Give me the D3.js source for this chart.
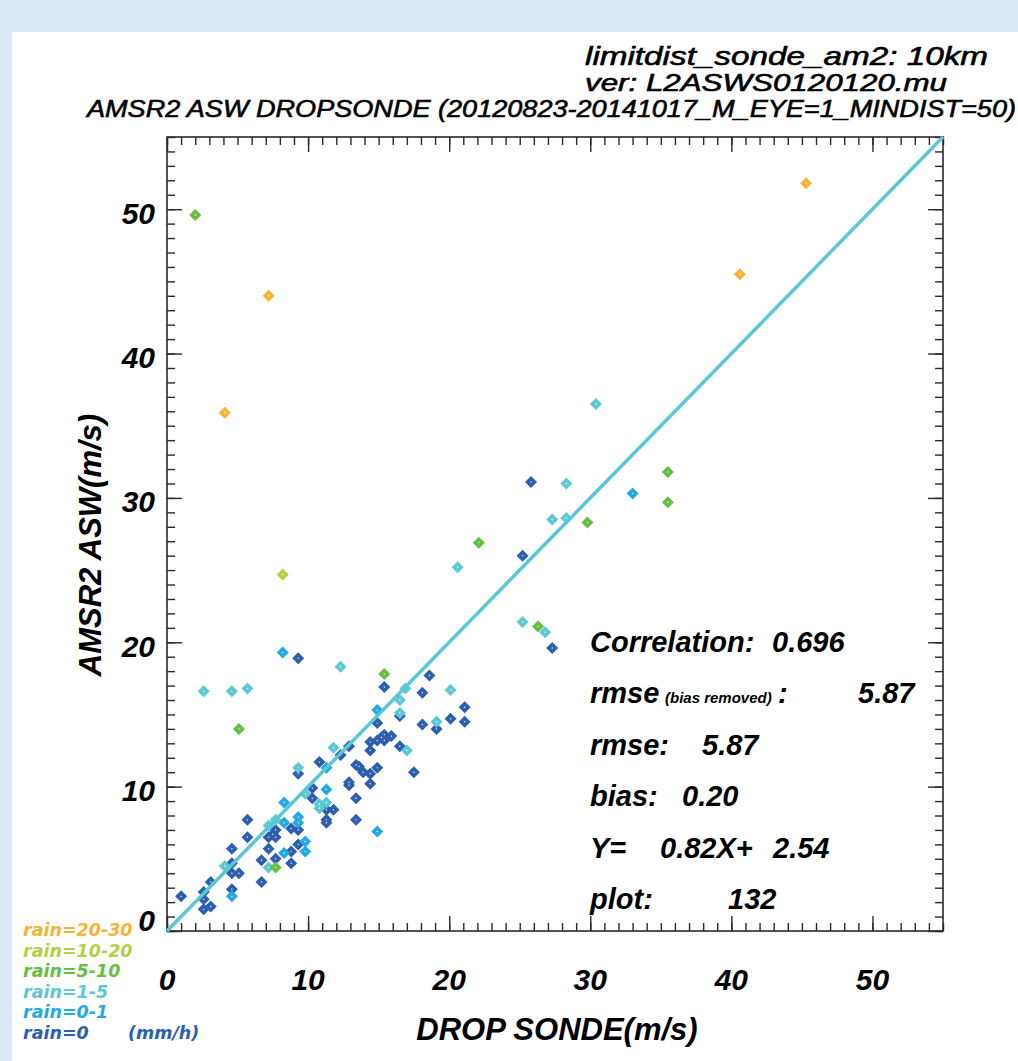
<!DOCTYPE html>
<html>
<head>
<meta charset="utf-8">
<style>
  body { margin: 0; background: #dbe9f6; }
  svg { display: block; }
</style>
</head>
<body>
<div id="container"></div>
<script src="https://cdn.jsdelivr.net/npm/d3@7"></script>
<script>

// ---- data: [drop sonde, AMSR2 ASW] in m/s ----
var rain0 = [
  [25.8, 31.1], [25.2, 26.0], [27.3, 19.6], [9.3, 18.9], [15.4, 16.9], [18.6, 17.7],
  [18.1, 16.5], [21.1, 15.5], [16.5, 14.9], [14.9, 14.4], [19.1, 14.0], [20.1, 14.7],
  [21.1, 14.5], [18.1, 14.3], [15.4, 13.6], [15.9, 13.5], [15.4, 13.2], [14.9, 13.2],
  [15.2, 13.4], [14.4, 13.1], [14.4, 12.5], [16.5, 12.8], [12.9, 12.8], [12.3, 12.2],
  [10.8, 11.7], [9.3, 10.9], [13.4, 11.5], [13.6, 11.4], [14.9, 11.3], [13.9, 11.0],
  [14.4, 10.9], [17.5, 11.0], [14.4, 10.2], [12.9, 10.3], [12.9, 10.1], [10.3, 9.9],
  [10.3, 9.2], [13.4, 9.2], [11.3, 8.4], [11.8, 8.4], [5.7, 7.7], [13.4, 7.7],
  [11.3, 7.7], [11.3, 7.5], [7.7, 7.0], [7.7, 6.5], [7.2, 6.5], [7.5, 6.7],
  [8.8, 7.1], [9.3, 7.0], [9.3, 6.0], [8.8, 5.5], [8.8, 4.7], [7.7, 5.0],
  [7.2, 5.7], [6.7, 4.9], [6.7, 3.4], [5.7, 6.5], [4.6, 5.7], [4.6, 4.7],
  [4.6, 4.0], [5.1, 4.0], [4.6, 2.9], [3.1, 3.4], [2.6, 2.7], [2.6, 2.2],
  [3.1, 1.7], [2.6, 1.5], [1.0, 2.4]
];
var rain0to1 = [
  [33.0, 30.3], [8.2, 19.3], [14.9, 15.3], [11.3, 11.3], [11.3, 9.8], [8.3, 8.9],
  [14.9, 6.9], [8.3, 7.5], [9.3, 7.9], [9.3, 7.5], [9.8, 6.2], [9.8, 5.5],
  [8.3, 5.4], [4.6, 2.4]
];
var rain1to5 = [
  [30.4, 36.5], [28.3, 31.0], [27.3, 28.5], [28.3, 28.6], [20.6, 25.2], [25.2, 21.4],
  [26.8, 20.7], [12.3, 18.3], [2.6, 16.6], [4.6, 16.6], [5.7, 16.8], [16.9, 16.8],
  [16.5, 16.0], [20.1, 16.7], [16.5, 15.1], [19.1, 14.5], [17.0, 12.5], [11.8, 12.7],
  [9.3, 11.3], [9.8, 9.5], [10.8, 8.8], [11.3, 8.9], [10.8, 8.5], [7.2, 7.3],
  [7.7, 7.7], [7.2, 4.4], [4.1, 4.5]
];
var rain5to10 = [
  [2.0, 49.6], [35.5, 31.8], [35.5, 29.7], [29.8, 28.3], [22.1, 26.9], [26.3, 21.1],
  [15.4, 17.8], [5.1, 14.0], [7.7, 4.4]
];
var rain10to20 = [[8.2, 24.7]];
var rain20to30 = [[45.3, 51.8], [40.6, 45.5], [7.2, 44.0], [4.1, 35.9]];

// legend, top to bottom
var rainLabels = ["rain=20-30", "rain=10-20", "rain=5-10", "rain=1-5", "rain=0-1", "rain=0"];
var rainColors = ["#f6b437", "#b3d145", "#68bd45", "#5ec8d5", "#26a9e1", "#2e5fae"];
var rainSeries = [rain20to30, rain10to20, rain5to10, rain1to5, rain0to1, rain0];

var majorTicks = [0, 10, 20, 30, 40, 50];
var tickLabels = ["0", "10", "20", "30", "40", "50"];

var statLines = [
  ["Correlation:", "0.696"],
  ["rmse", "5.87"],
  ["rmse:", "5.87"],
  ["bias:", "0.20"],
  ["Y=", "2.54"],
  ["plot:", "132"]
];

var W = 1018, H = 1061;
var boldItalic = "'Liberation Sans', Arial, Helvetica, sans-serif";
var verdanaLike = "'DejaVu Sans', Verdana, sans-serif";

var svg = d3.select("#container")
  .append("svg")
    .attr("width", W)
    .attr("height", H);

// white panel on the light blue page
svg.append("rect")
  .attr("x", 12).attr("y", 32)
  .attr("width", W - 12).attr("height", H - 32)
  .attr("fill", "#ffffff");

var x = d3.scaleLinear().domain([0, 55]).range([167, 943]);
var y = d3.scaleLinear().domain([0, 55]).range([931, 137]);

var minorTicks = d3.range(0, 56);

// ticks on all four sides, pointing inward
function ticks(axisFn, pos, vals, len) {
  var g = svg.append("g")
    .attr("transform", pos)
    .call(axisFn.tickValues(vals).tickSize(-len).tickFormat(""));
  g.select(".domain").remove();
  g.selectAll("line").attr("stroke", "#2a2a2a").attr("stroke-width", 1.4);
}
ticks(d3.axisBottom(x), "translate(0," + y(0) + ")", minorTicks, 8);
ticks(d3.axisBottom(x), "translate(0," + y(0) + ")", majorTicks, 15);
ticks(d3.axisTop(x), "translate(0," + y(55) + ")", minorTicks, 8);
ticks(d3.axisTop(x), "translate(0," + y(55) + ")", majorTicks, 15);
ticks(d3.axisLeft(y), "translate(" + x(0) + ",0)", minorTicks, 8);
ticks(d3.axisLeft(y), "translate(" + x(0) + ",0)", majorTicks, 15);
ticks(d3.axisRight(y), "translate(" + x(55) + ",0)", minorTicks, 8);
ticks(d3.axisRight(y), "translate(" + x(55) + ",0)", majorTicks, 15);

svg.append("rect")
  .attr("x", x(0)).attr("y", y(55))
  .attr("width", x(55) - x(0)).attr("height", y(0) - y(55))
  .attr("fill", "none")
  .attr("stroke", "#2a2a2a")
  .attr("stroke-width", 1.6);

// tick labels
svg.append("g").selectAll("text")
  .data(majorTicks)
  .enter().append("text")
    .attr("x", function (d) { return x(d); })
    .attr("y", 990)
    .attr("text-anchor", "middle")
    .style("font-family", boldItalic)
    .style("font-weight", "bold")
    .style("font-style", "italic")
    .style("font-size", "30px")
    .text(function (d, i) { return tickLabels[i]; });

svg.append("g").selectAll("text")
  .data(majorTicks)
  .enter().append("text")
    .attr("x", 155)
    .attr("y", function (d) { return Math.min(y(d) + 14.5, 931); })
    .attr("text-anchor", "end")
    .style("font-family", boldItalic)
    .style("font-weight", "bold")
    .style("font-style", "italic")
    .style("font-size", "30px")
    .text(function (d, i) { return tickLabels[i]; });

// axis titles
svg.append("text")
  .attr("x", 557).attr("y", 1040)
  .attr("text-anchor", "middle")
  .style("font-family", boldItalic)
  .style("font-weight", "bold")
  .style("font-style", "italic")
  .style("font-size", "31px")
  .text("DROP SONDE(m/s)");

svg.append("text")
  .attr("transform", "translate(101,545) rotate(-90)")
  .attr("text-anchor", "middle")
  .style("font-family", boldItalic)
  .style("font-weight", "bold")
  .style("font-style", "italic")
  .style("font-size", "31px")
  .text("AMSR2 ASW(m/s)");

// header lines
var headers = [
  {t: "limitdist_sonde_am2: 10km", x: 585, y: 65, w: 403, s: 26},
  {t: "ver: L2ASWS0120120.mu", x: 585, y: 91, w: 362, s: 24},
  {t: "AMSR2 ASW DROPSONDE (20120823-20141017_M_EYE=1_MINDIST=50)", x: 87, y: 117, w: 929, s: 24}
];
headers.forEach(function (h) {
  svg.append("text")
    .attr("x", h.x).attr("y", h.y)
    .attr("textLength", h.w)
    .attr("lengthAdjust", "spacingAndGlyphs")
    .attr("fill", "#000")
    .attr("stroke", "#000")
    .attr("stroke-width", 0.6)
    .style("font-family", boldItalic)
    .style("font-style", "italic")
    .style("font-size", h.s + "px")
    .text(h.t);
});

// points
var diamond = d3.symbol(d3.symbolSquare, 72);
for (var s = rainSeries.length - 1; s >= 0; s--) {
  var g = svg.append("g");
  g.selectAll("path")
    .data(rainSeries[s])
    .enter().append("path")
      .attr("d", diamond)
      .attr("transform", function (d) {
        return "translate(" + x(d[0]) + "," + y(d[1]) + ") rotate(45)";
      })
      .attr("fill", rainColors[s]);
  g.selectAll("circle")
    .data(rainSeries[s])
    .enter().append("circle")
      .attr("cx", function (d) { return x(d[0]); })
      .attr("cy", function (d) { return y(d[1]); })
      .attr("r", 0.7)
      .attr("fill", "#ffffff");
}

// 1:1 line
svg.append("path")
  .datum([[0, 0], [55, 55]])
  .attr("d", d3.line().x(function (d) { return x(d[0]); }).y(function (d) { return y(d[1]); }))
  .attr("stroke", "#5ac8d4")
  .attr("stroke-width", 3.5)
  .attr("fill", "none");

// statistics
var statBase = [652, 703, 755, 806, 858, 909];
var statValueX = [772, 858, 702, 682, 773, 728];
function statText(str, xx, yy, size) {
  return svg.append("text")
    .attr("x", xx).attr("y", yy)
    .style("font-family", boldItalic)
    .style("font-weight", "bold")
    .style("font-style", "italic")
    .style("font-size", size + "px")
    .text(str);
}
statLines.forEach(function (d, i) {
  statText(d[0], 590, statBase[i], 29);
  statText(d[1], statValueX[i], statBase[i], 29);
});
statText("(bias removed)", 665, statBase[1], 15);
statText(":", 778, statBase[1], 29);
statText("0.82X+", 660, statBase[4], 29);

// rain legend
rainLabels.forEach(function (d, i) {
  svg.append("text")
    .attr("x", 23).attr("y", 936 + i * 20.6)
    .attr("fill", rainColors[i])
    .style("font-family", verdanaLike)
    .style("font-weight", "bold")
    .style("font-style", "italic")
    .style("font-size", "17.5px")
    .text(d);
});
svg.append("text")
  .attr("x", 128).attr("y", 936 + 5 * 20.6)
  .attr("fill", rainColors[5])
  .style("font-family", verdanaLike)
  .style("font-weight", "bold")
  .style("font-style", "italic")
  .style("font-size", "17.5px")
  .text("(mm/h)");

</script>
</body>
</html>
